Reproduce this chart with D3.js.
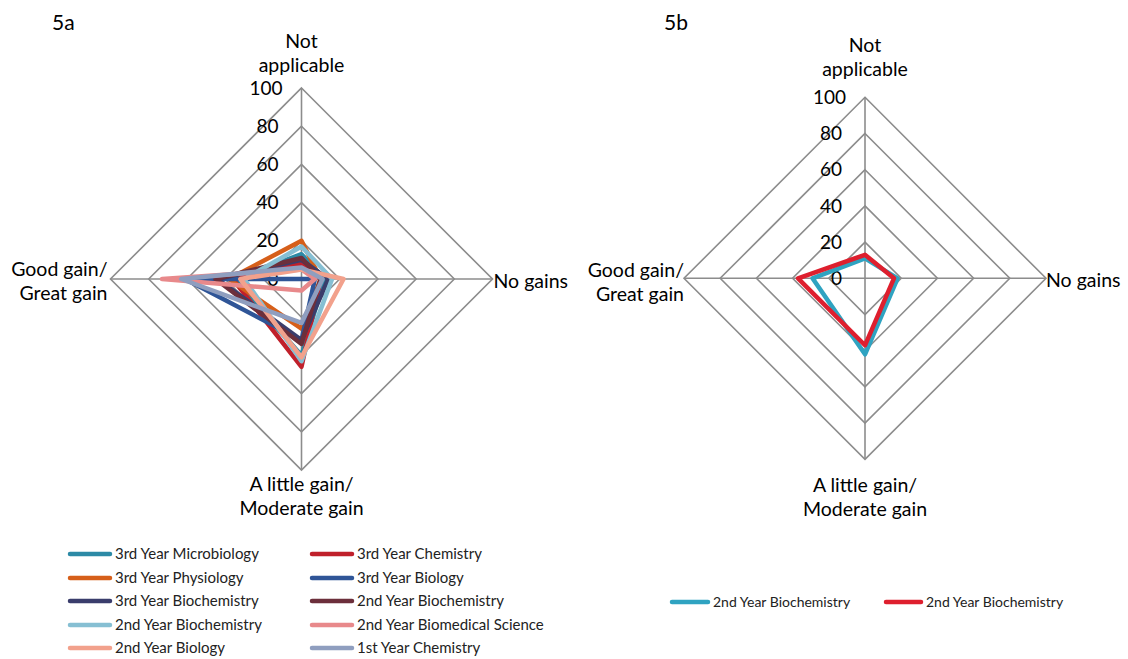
<!DOCTYPE html>
<html>
<head>
<meta charset="utf-8">
<script src="https://cdn.jsdelivr.net/npm/d3@7"></script>
<style>
  html, body { margin: 0; padding: 0; background: #fff; }
  svg { display: block; font-family: Lato, "Open Sans", "Liberation Sans", sans-serif; }
</style>
</head>
<body>
<svg id="chart" width="1128" height="659"></svg>
<script>
// ---------- data ----------
const categories = [["Not", "applicable"], ["No gains"], ["A little gain/", "Moderate gain"], ["Good gain/", "Great gain"]];
const tickValues = [0, 20, 40, 60, 80, 100];

const seriesNamesA = [
  "3rd Year Microbiology", "3rd Year Chemistry", "3rd Year Physiology", "3rd Year Biology",
  "3rd Year Biochemistry", "2nd Year Biochemistry", "2nd Year Biochemistry",
  "2nd Year Biomedical Science", "2nd Year Biology", "1st Year Chemistry"
];
const seriesColorsA = ["#2C8AA6", "#C0202B", "#D65F1A", "#2F5597", "#3A3D6C", "#6C2F3B", "#86BFD3", "#E8898B", "#F2A18C", "#8F9EBF"];
// values per series: [Not applicable, No gains, A little/Moderate, Good/Great]
const valuesA = [
  [13, 12, 40, 35],
  [8, 10, 46, 36],
  [20, 10, 26, 38],
  [0, 7, 32, 61],
  [10, 14, 32, 44],
  [11, 10, 34, 45],
  [17, 16, 43, 30],
  [5, 7, 6, 73],
  [5, 22, 41, 32],
  [6, 11, 23, 63]
];

const seriesNamesB = ["2nd Year Biochemistry", "2nd Year Biochemistry"];
const seriesColorsB = ["#2FA3C1", "#DE1F2E"];
const valuesB = [
  [11, 18, 42, 29],
  [13, 16, 37, 37]
];

// ---------- drawing ----------
const svg = d3.select("#chart");
const gridColor = "#8C8C8C";

function radar(opts) {
  const { cx, cy, R, names, colors, values, labelPos } = opts;
  const g = svg.append("g").attr("transform", `translate(${cx},${cy})`);
  const r = d3.scaleLinear().domain([0, 100]).range([0, R]);
  const angle = d3.scalePoint().domain(d3.range(categories.length)).range([0, 2 * Math.PI * (categories.length - 1) / categories.length]);

  const gridLine = d3.lineRadial().curve(d3.curveLinearClosed)
    .angle((d, i) => angle(i)).radius(d => r(d));
  tickValues.filter(t => t > 0).forEach(t => {
    g.append("path").attr("d", gridLine(categories.map(() => t)))
      .attr("fill", "none").attr("stroke", gridColor).attr("stroke-width", 1.6);
  });
  categories.forEach((c, i) => {
    const a = angle(i);
    g.append("line").attr("x1", 0).attr("y1", 0)
      .attr("x2", r(100) * Math.sin(a)).attr("y2", -r(100) * Math.cos(a))
      .attr("stroke", gridColor).attr("stroke-width", 1.6);
  });
  g.selectAll("text.tick").data(tickValues).enter().append("text")
    .attr("class", "tick")
    .attr("x", d => d === 100 ? -19 : -23)
    .attr("y", d => -r(d))
    .attr("dy", "0.35em")
    .attr("text-anchor", "end")
    .attr("font-size", 19)
    .attr("fill", "#000")
    .text(d => d);

  const line = d3.lineRadial().curve(d3.curveLinearClosed)
    .angle((d, i) => angle(i)).radius(d => r(d));
  values.forEach((vals, si) => {
    g.append("path").attr("d", line(vals))
      .attr("fill", "none").attr("stroke", colors[si])
      .attr("stroke-width", 4.5).attr("stroke-linejoin", "round");
  });

  labelPos.forEach((p, i) => {
    const t = g.append("text").attr("font-size", 19.5).attr("fill", "#000")
      .attr("text-anchor", p.anchor)
      .attr("x", p.x).attr("y", p.y);
    categories[i].forEach((ln, k) => {
      t.append("tspan").attr("x", p.x).attr("dy", k === 0 ? 0 : 24).text(ln);
    });
  });
}

radar({
  cx: 301.5, cy: 279, R: 191,
  names: seriesNamesA, colors: seriesColorsA, values: valuesA,
  labelPos: [
    { x: 0, y: -231, anchor: "middle" },
    { x: 192, y: 9, anchor: "start" },
    { x: 0, y: 212, anchor: "middle" },
    { x: -194, y: -3, anchor: "end" }
  ]
});
radar({
  cx: 865, cy: 278.3, R: 181,
  names: seriesNamesB, colors: seriesColorsB, values: valuesB,
  labelPos: [
    { x: 0, y: -226, anchor: "middle" },
    { x: 181, y: 9, anchor: "start" },
    { x: 0, y: 214, anchor: "middle" },
    { x: -181, y: -1, anchor: "end" }
  ]
});

svg.append("text").attr("x", 52).attr("y", 30).attr("font-size", 21).text("5a");
svg.append("text").attr("x", 664).attr("y", 30).attr("font-size", 21).text("5b");

function legend(items, colors, positions, fs) {
  items.forEach((name, i) => {
    const p = positions[i];
    const g = svg.append("g").attr("transform", `translate(${p.x},${p.y})`);
    g.append("line").attr("x1", 0).attr("x2", p.w).attr("y1", 0).attr("y2", 0)
      .attr("stroke", colors[i]).attr("stroke-width", 4.5).attr("stroke-linecap", "round");
    g.append("text").attr("x", p.w + 5).attr("y", 0).attr("dy", "0.35em")
      .attr("font-size", fs).attr("fill", "#222").text(name);
  });
}
const rowsA = [554, 578, 601, 625, 648];
legend(seriesNamesA, seriesColorsA, seriesNamesA.map((n, i) => ({
  x: i % 2 === 0 ? 70 : 312,
  y: rowsA[Math.floor(i / 2)],
  w: 40
})), 15);
legend(seriesNamesB, seriesColorsB, [
  { x: 672, y: 602, w: 36 },
  { x: 886, y: 602, w: 35 }
], 14);
</script>
</body>
</html>
